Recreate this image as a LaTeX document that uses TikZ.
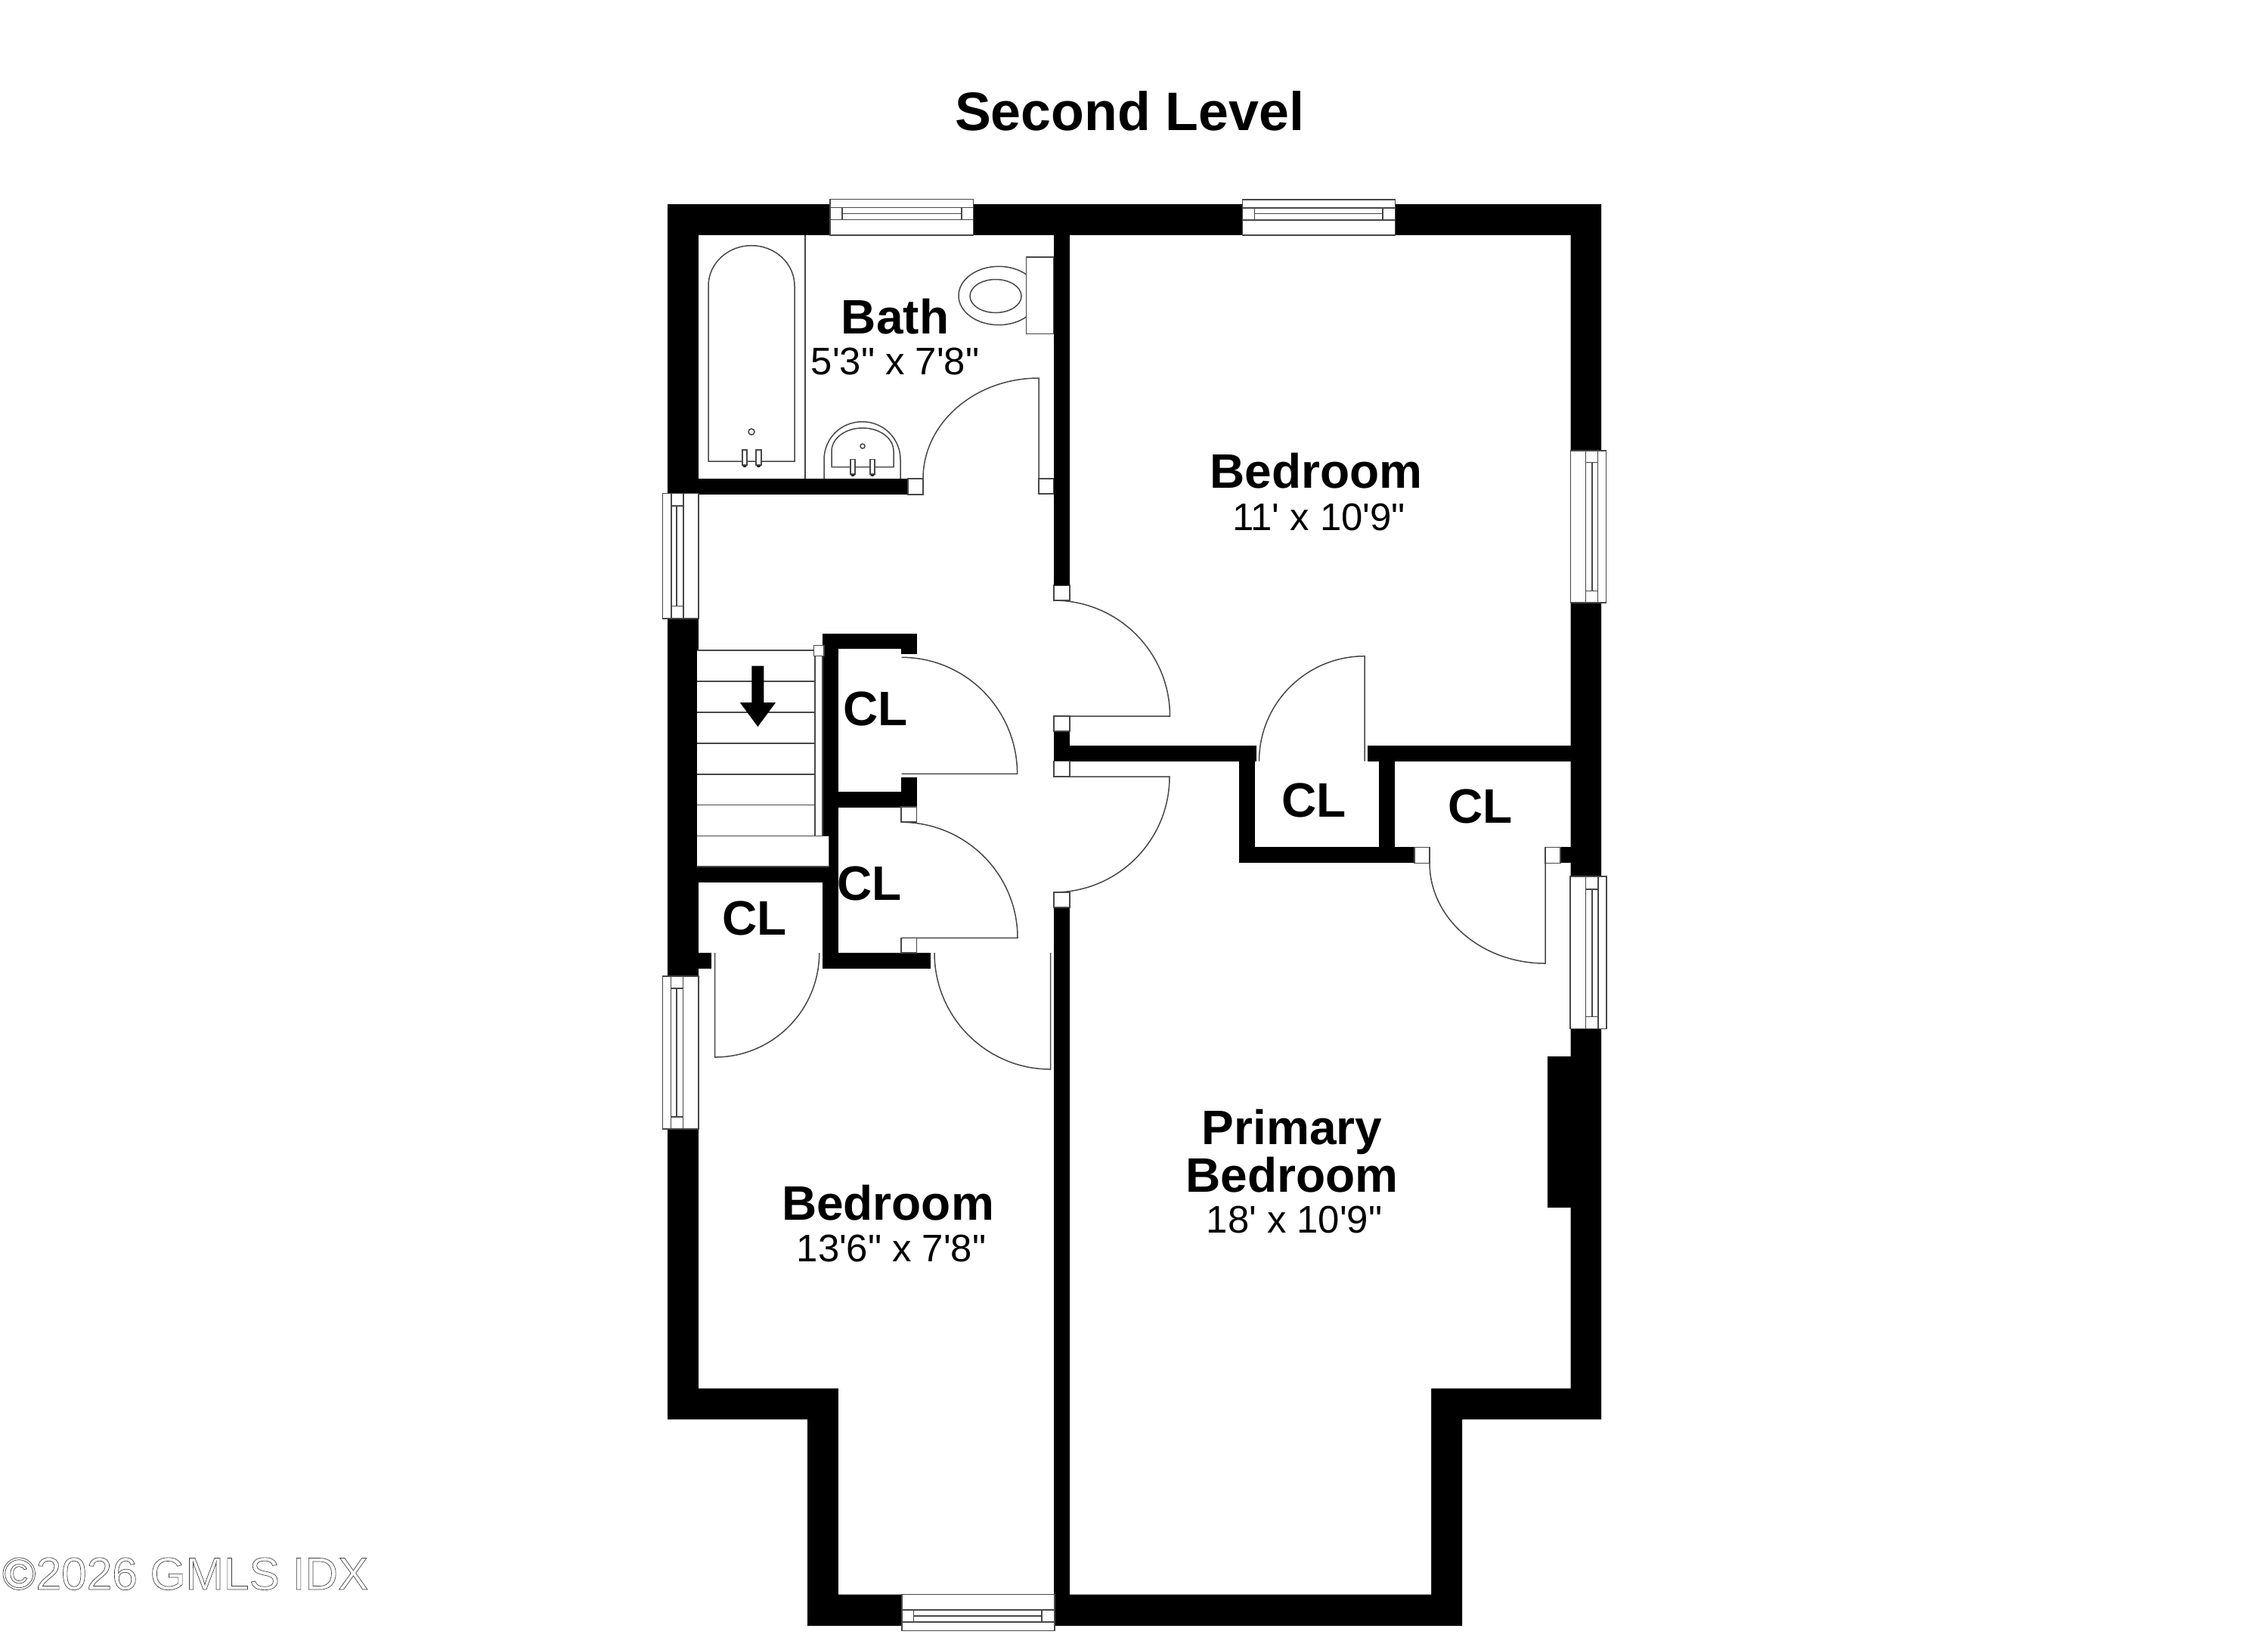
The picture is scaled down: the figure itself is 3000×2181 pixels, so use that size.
\documentclass[tikz,border=0pt]{standalone}
\usepackage{fontspec}
\newfontfamily\planfont{Liberation Sans}
\tikzset{
  plan/.style={draw=black!72,line width=0.36pt,line join=miter},
  boxw/.style={plan,fill=white},
  wallf/.style={fill=black,draw=none},
  lbl/.style={inner sep=0pt,outer sep=0pt,anchor=base,align=center},
  rname/.style={lbl,font=\planfont\fontsize{15.36pt}{15.36pt}\selectfont\bfseries},
  rdim/.style={lbl,font=\planfont\fontsize{12.2pt}{12.2pt}\selectfont},
}
% door: hinge (#1,#2), leaf vector (#3,#4), closed-side vector (#5,#6)
\newcommand{\doorswing}[6]{%
  \draw[plan] (#1,#2) -- ({#1+#3},{#2+#4})
    .. controls ({#1+#3+.5523*(#5)},{#2+#4+.5523*(#6)}) and ({#1+#5+.5523*(#3)},{#2+#6+.5523*(#4)}) .. ({#1+#5},{#2+#6});}
\newcommand{\wallrect}[4]{\fill[wallf] (#1,#2) rectangle (#3,#4);}
\newcommand{\jamb}[4]{\draw[boxw] (#1,#2) rectangle (#3,#4);}
% horizontal window: x1 x2 top bottom y1 ymid y2 xi1 xi2
\newcommand{\winh}[9]{%
  \draw[boxw] (#1,#3) rectangle (#2,#4);
  \draw[plan] (#1,#5) -- (#2,#5) (#1,#7) -- (#2,#7) (#8,#5) -- (#8,#7) (#9,#5) -- (#9,#7) (#8,#6) -- (#9,#6);}
% vertical window: y1 y2 left right x1 xmid x2 yi1 yi2
\newcommand{\winv}[9]{%
  \draw[boxw] (#3,#1) rectangle (#4,#2);
  \draw[plan] (#5,#1) -- (#5,#2) (#7,#1) -- (#7,#2) (#5,#8) -- (#7,#8) (#5,#9) -- (#7,#9) (#6,#8) -- (#6,#9);}
\newcommand{\faucet}[4]{%
  \fill[black] ({(#1+#2)/2},#4) circle[radius=3];
  \draw[boxw] (#1,#3) rectangle (#2,#4);}
\begin{document}
\begin{tikzpicture}[x=0.24pt,y=-0.24pt]
\useasboundingbox (0,0) rectangle (3000,2181);
\fill[white] (0,0) rectangle (3000,2181);

% outer shell
\fill[wallf] (883,270) -- (2118,270) -- (2118,1877) -- (1934,1877) -- (1934,2150)
  -- (1068,2150) -- (1068,1877) -- (883,1877) -- cycle;
\fill[white] (924,311) -- (2077.5,311) -- (2077.5,1836) -- (1893,1836) -- (1893,2108.7)
  -- (1109,2108.7) -- (1109,1836) -- (924,1836) -- cycle;

% interior walls
\wallrect{1394}{311}{1415}{774}
\wallrect{1394}{967}{1415}{1006.7}
\wallrect{1394}{1200}{1415}{2150}
\wallrect{924}{633}{1201}{654}
\wallrect{1088}{837.7}{1109}{1281}
\wallrect{1088}{837.7}{1212.7}{858.3}
\wallrect{1191.7}{837.7}{1212.7}{865}
\wallrect{1109}{1047.3}{1192}{1068.3}
\wallrect{1191.7}{1027.7}{1212.7}{1067}
\wallrect{920}{1146}{1109}{1167.3}
\wallrect{920}{1260}{941}{1281}
\wallrect{1088.5}{1260}{1231}{1281}
\wallrect{1415}{986}{1661.7}{1006.7}
\wallrect{1639}{986}{1660}{1141.4}
\wallrect{1639}{1120.3}{1871}{1141.4}
\wallrect{1824}{986}{1845}{1141}
\wallrect{1809}{986}{2080}{1006.7}
\wallrect{2064}{1120.3}{2080}{1141.4}
\wallrect{2047}{1397}{2080}{1597}

% stairs
\fill[white] (921.6,860) rectangle (1078,1146);
\fill[white] (921.6,1105.7) rectangle (1096.5,1146);
\draw[plan,line width=0.5pt] (921.6,860) -- (1078,860);
\foreach \ty in {901,942,983,1024,1064.7,1105.7}{\draw[plan] (921.6,\ty) -- (1078,\ty);}
\draw[plan] (921.6,1105.7) -- (1096.5,1105.7) -- (1096.5,1146) -- (921.6,1146);
\draw[boxw] (1078,867.7) rectangle (1088,1105.7);
\draw[boxw] (1076.5,853.7) rectangle (1090,867.7);
\fill[black] (994.4,880.7) -- (1010.4,880.7) -- (1010.4,929) -- (1026,929) -- (1002.4,961)
  -- (978.75,929) -- (994.4,929) -- cycle;

% doors
\doorswing{1374}{633}{0}{-133}{-153}{0}
\doorswing{1394}{947}{153.5}{0}{0}{-153}
\doorswing{1394}{1027}{153}{0}{0}{153}
\doorswing{1192.6}{1023.3}{153}{0}{0}{-154}
\doorswing{1192}{1240.3}{154}{0}{0}{-153}
\doorswing{945.7}{1260}{0}{138}{138}{0}
\doorswing{1389.6}{1260}{0}{154}{-153.6}{0}
\doorswing{1805}{1006.7}{0}{-139}{-139.5}{0}
\doorswing{2044}{1141}{0}{133}{-153}{0}

% jambs
\jamb{1201}{633}{1221}{654}
\jamb{1374}{633}{1394}{653}
\jamb{1394}{774}{1415}{794}
\jamb{1394}{947}{1415}{967}
\jamb{1394}{1006.7}{1415}{1027}
\jamb{1394}{1180}{1415}{1200}
\jamb{1192}{1067}{1212.7}{1087}
\jamb{1192}{1240.3}{1212.5}{1260}
\jamb{1871}{1120.3}{1891}{1141.4}
\jamb{2044}{1120.3}{2064}{1141.4}

% windows
\winh{1098}{1287.5}{263.7}{311}{274.3}{282.7}{290.7}{1114}{1272}
\winh{1643.6}{1845.7}{263.8}{310.8}{275}{282.5}{291}{1659.6}{1829}
\winh{1193}{1394.8}{2108.7}{2156.7}{2129}{2137}{2145}{1208.5}{1378}
\winv{652.7}{818}{876.5}{924}{888}{895}{904}{669}{801.7}
\winv{1291}{1493}{876.5}{924}{887.5}{895}{903.6}{1307}{1477}
\winv{596}{797}{2077.5}{2124.6}{2097.5}{2106}{2113.6}{611.6}{781.6}
\winv{1159}{1360.6}{2077}{2125}{2097.6}{2106}{2114}{1176}{1344.6}

% bath fixtures
\draw[plan] (1065,311) -- (1065,633);
\draw[plan] (937,610) -- (937,378) .. controls (937,348.6) and (962.5,324.7) .. (994,324.7)
  .. controls (1025.5,324.7) and (1051,348.6) .. (1051,378) -- (1051,610) -- cycle;
\draw[plan] (994,571) circle[radius=4];
\faucet{982}{988}{595}{615}
\faucet{1000}{1007}{595}{615}
\draw[plan] (1090,633) -- (1090,608) .. controls (1090,580) and (1112,557.7) .. (1140.5,557.7)
  .. controls (1169,557.7) and (1191,580) .. (1191,608) -- (1191,633);
\draw[plan] (1100,617.7) -- (1100,596.7) .. controls (1100,579.7) and (1118,566) .. (1141,566)
  .. controls (1164,566) and (1182,579.7) .. (1182,596.7) -- (1182,617.7) -- cycle;
\draw[plan] (1141,590) circle[radius=3];
\faucet{1125}{1131}{607.3}{627}
\faucet{1151}{1157}{607.3}{627}
\draw[plan] (1321,391) ellipse[x radius=53,y radius=38.7];
\draw[boxw] (1357.5,340) rectangle (1394,441.7);
\draw[plan] (1317,391.5) ellipse[x radius=34,y radius=22];
\wallrect{1394}{311}{1415}{774}

% labels
\node[lbl,font=\planfont\fontsize{17.2pt}{17.2pt}\selectfont\bfseries] (title) at (1494,172) {Second Level};
\node[rname] (bathname) at (1184,441) {Bath};
\node[rdim] (bathdim) at (1184,495) {5'3" x 7'8"};
\node[rname] (bedaname) at (1741,645) {Bedroom};
\node[rdim] (bedadim) at (1744.5,701) {11' x 10'9"};
\node[rname] (bedbname) at (1174.5,1613) {Bedroom};
\node[rdim] (bedbdim) at (1179,1668) {13'6" x 7'8"};
\node[rname] (primaryname) at (1709,1513) {Primary};
\node[rname] (primarynameb) at (1709,1576) {Bedroom};
\node[rdim] (primarydim) at (1712,1630) {18' x 10'9"};
\node[rname] (cla) at (1158,959) {CL};
\node[rname] (clb) at (1150,1190) {CL};
\node[rname] (clc) at (998,1236) {CL};
\node[rname] (cld) at (1738,1080) {CL};
\node[rname] (cle) at (1958,1088) {CL};
\node[inner sep=0pt,outer sep=0pt,anchor=base west,text=black!75,font=\planfont\fontsize{14.5pt}{14.5pt}\selectfont] (mark) at (3,2102)
  {\special{pdf:code 1 Tr 0.16 w}©2026 GMLS IDX\special{pdf:code 0 Tr}};
\end{tikzpicture}
\end{document}
